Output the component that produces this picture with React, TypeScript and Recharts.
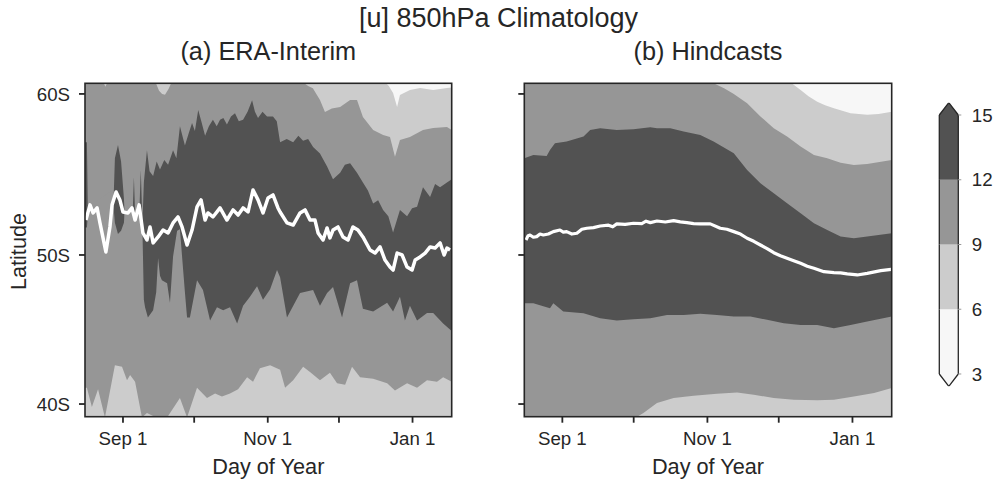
import React from "react";
import { Area, Bar, BarChart, CartesianGrid, ComposedChart, Line, XAxis, YAxis } from "recharts";

const FONT = '"Liberation Sans", Arial, Helvetica, sans-serif';
const INK = "#262626";

// contour levels of the shading and their greys (3-6, 6-9, 9-12, 12-15)
const LEVELS = [3, 6, 9, 12, 15];
const LEVEL_COLORS = ["#f7f7f7", "#cccccc", "#969696", "#525252"];

// x: days after Sep 1
const DAY_TICKS = [0, 30, 61, 91, 122];
const DAY_LABELS = ["Sep 1", "", "Nov 1", "", "Jan 1"];
const DAY_DOMAIN: [number, number] = [-16, 138.5];

// y: degrees south
const LAT_TICKS = [40, 50, 60];
const LAT_LABELS = ["40S", "50S", "60S"];
const LAT_DOMAIN: [number, number] = [39.15, 60.66];

// the published axis is not quite linear in latitude (tick spacing 60-50 > 50-40)
const toU = (lat: number) => (lat >= 50 ? (lat - 50) * 16.1 : (lat - 50) * 14.9);
const U_MIN = toU(LAT_DOMAIN[0]);
const U_MAX = toU(LAT_DOMAIN[1]);

// ---- (a) ERA-Interim: [day, lat] along each contour edge ----
const eraWhite = [[-16, 60.8], [110, 60.8], [112, 60.5], [113.8, 60.06], [115.5, 59.19], [116.7, 59.94], [120.9, 60.25], [125.2, 60.37], [130.7, 60.25], [136.5, 60.37], [138.5, 60.4]];
const eraLightTop = [[-16, 60.8], [-8.5, 60.8], [-7.4, 60.45], [-6.3, 60.8], [13.5, 60.8], [15.2, 60.2], [16.5, 60.0], [17.7, 59.95], [19.2, 60.3], [20.7, 60.8], [75, 60.8], [78, 60.5], [80, 60.35], [83, 59.63], [85.1, 58.88], [88, 59.1], [91.5, 59.19], [95.7, 59.63], [98.6, 59.63], [101.1, 58.57], [105.4, 57.76], [109.6, 57.45], [112.5, 57.33], [114.6, 56.1], [116.7, 57.14], [120.9, 57.33], [126.4, 57.76], [130.7, 57.89], [136.5, 57.95], [138.5, 57.76]];
const eraDarkTop = [[-16, 57.0], [-15.2, 57.0], [-14.5, 49.5], [-5.5, 49.5], [-4.6, 50.5], [-3.4, 56.0], [-2.1, 56.83], [-0.8, 55.8], [0.4, 53.5], [1.3, 50.5], [2.5, 49.5], [3.6, 50.5], [4.6, 54.84], [5.6, 50.5], [6.5, 51.0], [7.5, 55.28], [8.2, 52.0], [8.8, 54.5], [10.1, 56.5], [11.2, 55.2], [12.7, 54.9], [14.2, 55.8], [15.6, 55.3], [17.4, 55.9], [19.0, 55.6], [21.1, 56.5], [22.5, 56.0], [24.0, 58.0], [26.1, 56.8], [27.8, 57.6], [29.1, 58.2], [30.3, 57.7], [31.7, 59.0], [33.0, 58.3], [34.6, 57.4], [36.2, 58.0], [37.9, 58.4], [39.5, 58.0], [40.9, 58.4], [42.3, 58.5], [43.8, 58.1], [45.5, 58.6], [47.2, 58.8], [48.8, 58.3], [50.6, 58.4], [52.5, 58.9], [54.4, 59.6], [55.6, 58.9], [56.9, 58.5], [58.8, 58.9], [60.7, 58.6], [63.2, 58.6], [64.8, 58.3], [66.2, 57.0], [69.0, 57.2], [71.7, 57.0], [73.9, 57.4], [75.9, 57.1], [78.0, 57.2], [80.1, 56.7], [83.0, 56.3], [86.0, 55.5], [88.5, 54.7], [91.5, 55.1], [93.5, 55.6], [95.7, 55.7], [98.6, 55.1], [101.1, 54.5], [103.2, 54.0], [105.4, 53.2], [107.5, 53.4], [109.6, 52.8], [111.8, 52.4], [113.8, 51.4], [116.7, 52.8], [119.7, 52.4], [121.8, 52.9], [123.9, 53.0], [126.4, 54.2], [129.4, 53.6], [131.5, 54.4], [133.6, 54.2], [136.5, 54.5], [138.5, 54.7]];
const eraDarkBot = [[-16, 51.7], [-15.2, 51.7], [-14.5, 53], [-4.6, 54], [-3.4, 52], [-2.1, 51.3], [-0.8, 51.5], [0.4, 52.0], [1.3, 54], [3.6, 53], [4.6, 52.2], [5.6, 53], [6.5, 53], [7.5, 52.2], [8.0, 53], [8.8, 47.0], [9.3, 46.5], [10.5, 45.8], [12.7, 46.3], [14.0, 47.5], [14.8, 49.8], [15.6, 48.6], [16.4, 48.3], [18.6, 48.1], [19.8, 46.8], [21.1, 49.9], [22.8, 51.5], [24.0, 51.6], [24.9, 49.9], [26.1, 47.5], [27.0, 45.8], [28.2, 45.8], [31.2, 48.3], [33.7, 47.65], [36.7, 45.6], [39.6, 46.5], [42.2, 46.3], [45.1, 46.5], [48.1, 45.4], [50.6, 46.6], [53.5, 47.2], [56.5, 47.9], [59.0, 47.0], [62.0, 47.7], [64.9, 49.0], [66.2, 48.5], [69.1, 45.8], [74.6, 47.45], [80.1, 47.65], [83.0, 46.6], [86.0, 47.45], [88.5, 47.85], [92.3, 45.8], [95.7, 48.1], [98.6, 48.3], [101.1, 46.4], [105.4, 46.2], [111.3, 46.8], [113.8, 46.2], [116.7, 47.2], [118.8, 45.6], [120.9, 46.6], [123.9, 45.6], [128.1, 46.1], [130.7, 46.1], [134.9, 45.4], [138.5, 44.9]];
const eraLightBot = [[-16, 41.1], [-15.2, 41.1], [-13.1, 39.8], [-10.5, 41.0], [-7.6, 39.1], [-3.4, 42.6], [-0.4, 42.5], [1.7, 41.6], [3.0, 41.95], [5.1, 41.5], [8.0, 39.1], [10.1, 39.4], [12.7, 39.2], [18.6, 39.1], [24.0, 40.4], [27.0, 39.1], [31.2, 41.1], [35.4, 40.4], [38.8, 40.7], [41.7, 40.5], [45.1, 40.7], [48.5, 41.0], [52.3, 41.8], [54.8, 41.5], [57.7, 42.4], [62.0, 42.6], [66.2, 42.3], [68.3, 41.1], [71.7, 41.6], [75.9, 42.5], [78.8, 42.15], [83.0, 41.6], [87.2, 42.1], [90.2, 41.4], [93.6, 41.3], [96.5, 42.5], [99.9, 41.8], [105.4, 41.7], [111.3, 41.4], [114.6, 40.9], [119.7, 41.4], [123.9, 41.1], [128.1, 41.6], [132.3, 41.5], [134.9, 41.8], [138.5, 41.5]];
const eraJet = [[-15.6, 52.17], [-13.9, 53.11], [-12.6, 52.61], [-10.9, 52.92], [-9.7, 51.99], [-7.2, 50.19], [-5.5, 51.74], [-4.6, 53.11], [-2.9, 53.91], [-1.3, 53.42], [0.0, 52.67], [2.1, 52.61], [3.8, 52.92], [5.1, 52.17], [6.8, 53.11], [8.4, 51.37], [10.1, 50.93], [11.4, 51.74], [12.7, 50.75], [14.8, 51.12], [16.9, 51.55], [19.0, 51.37], [21.1, 51.99], [23.2, 52.36], [24.9, 51.74], [27.0, 50.62], [29.1, 51.55], [31.2, 52.98], [32.9, 53.42], [34.6, 52.17], [35.8, 52.61], [37.9, 52.36], [40.9, 52.92], [43.8, 52.17], [46.4, 52.8], [48.5, 52.48], [50.6, 52.92], [52.7, 52.67], [54.8, 54.04], [56.9, 53.42], [59.0, 52.61], [61.1, 53.54], [63.2, 53.73], [65.3, 52.92], [66.2, 52.67], [69.1, 51.99], [71.7, 51.86], [74.6, 52.61], [76.7, 52.8], [78.8, 52.17], [80.9, 52.17], [82.2, 51.37], [84.3, 50.93], [86.0, 51.68], [87.2, 51.06], [88.5, 51.55], [90.6, 51.74], [92.7, 51.12], [94.8, 50.93], [96.9, 51.74], [99.0, 51.55], [101.1, 51.12], [104.1, 50.31], [106.2, 50.12], [108.3, 50.5], [110.4, 49.66], [112.5, 49.19], [113.8, 48.99], [115.5, 50.12], [117.6, 50.0], [119.7, 49.19], [121.8, 48.99], [123.1, 49.66], [125.2, 49.87], [127.3, 50.12], [129.4, 50.5], [131.5, 50.43], [133.6, 50.75], [135.3, 50.0], [136.5, 50.43], [137.8, 50.31]];

// ---- (b) Hindcasts ----
const hcWhite = [[-16, 60.8], [95, 60.8], [97, 60.6], [100.2, 60.25], [103.5, 59.85], [107.2, 59.52], [110.5, 59.3], [114.2, 59.11], [121.2, 58.8], [128.2, 58.7], [133, 58.75], [138.5, 58.9]];
const hcLightTop = [[-16, 60.8], [60, 60.8], [63.6, 60.66], [68, 60.35], [72.1, 60.0], [77.7, 59.42], [83.3, 58.6], [88.9, 57.87], [94.5, 57.35], [100.2, 56.73], [105.8, 56.21], [111.4, 56.0], [117, 55.73], [122.6, 55.59], [128.2, 55.65], [138.5, 55.9]];
const hcDarkTop = [[-16, 56.0], [-12.2, 56.21], [-6.6, 56.15], [-5.2, 56.52], [-3.1, 56.94], [1.8, 57.04], [8.9, 57.35], [11.7, 57.76], [15.9, 57.87], [22.9, 57.76], [29.9, 57.8], [37.0, 57.93], [39.8, 57.87], [45.4, 57.87], [51.0, 57.66], [58.0, 57.45], [63.6, 57.04], [72.1, 56.31], [77.7, 55.28], [83.3, 54.45], [88.9, 53.83], [94.5, 53.21], [100.2, 52.59], [105.8, 51.97], [111.4, 51.55], [117.0, 51.14], [122.6, 51.04], [128.2, 51.14], [138.5, 51.35]];
const hcDarkBot = [[-16, 46.76], [-12.2, 46.76], [-5.2, 46.43], [-3.8, 46.76], [0.4, 46.2], [8.9, 46.09], [15.9, 45.76], [22.9, 45.6], [29.9, 45.69], [37.0, 45.76], [44.0, 45.98], [51.0, 45.98], [58.0, 46.05], [65.0, 45.98], [72.1, 45.87], [79.1, 45.87], [86.1, 45.65], [93.1, 45.42], [100.2, 45.31], [107.2, 45.31], [114.2, 45.09], [121.2, 45.31], [128.2, 45.54], [138.5, 45.87]];
const hcLightBot = [[-16, 39.0], [29.9, 39.0], [34.1, 39.4], [39.8, 40.07], [46.8, 40.4], [55.2, 40.56], [65.0, 40.69], [73.5, 40.78], [80.5, 40.63], [88.9, 40.4], [97.3, 40.29], [107.2, 40.25], [114.2, 40.29], [122.6, 40.51], [131.1, 40.74], [138.5, 41.07]];
const hcJet = [[-15.3, 50.93], [-14.4, 51.2], [-13.6, 51.24], [-12.2, 51.1], [-10.8, 51.14], [-9.4, 51.3], [-8.0, 51.24], [-5.9, 51.3], [-3.8, 51.45], [-1.0, 51.55], [0.4, 51.42], [1.8, 51.45], [4.0, 51.3], [6.1, 51.35], [8.2, 51.6], [10.3, 51.66], [13.1, 51.7], [15.9, 51.8], [19.4, 51.85], [21.2, 51.75], [22.9, 51.93], [26.4, 51.9], [29.9, 51.97], [33.4, 51.95], [35.2, 52.1], [37.0, 52.01], [39.8, 52.11], [43.3, 52.05], [46.8, 52.13], [49.6, 52.06], [52.4, 52.01], [55.2, 51.95], [58.0, 51.93], [62.2, 51.93], [66.4, 51.66], [69.2, 51.6], [72.1, 51.45], [74.9, 51.3], [77.7, 51.04], [80.5, 50.85], [83.3, 50.62], [86.1, 50.4], [88.9, 50.14], [91.7, 49.95], [94.5, 49.78], [97.3, 49.62], [100.2, 49.44], [103.0, 49.25], [105.8, 49.11], [110.0, 48.88], [114.2, 48.82], [117.0, 48.8], [119.8, 48.73], [124.0, 48.66], [128.2, 48.77], [133.9, 48.95], [138.3, 49.04]];

const pts = (arr: number[][]) => arr.map(([d, lat]) => ({ d, u: toU(lat) }));

type PanelProps = {
  left: number;
  width: number;
  yAxisWidth: number;
  showLatLabels: boolean;
  edges: number[][][]; // white, lightTop, darkTop, darkBot, lightBot
  jet: number[][];
  jetWidth: number;
};

// painter's order: each area fills from the bottom up to a contour edge
const EDGE_FILLS = [LEVEL_COLORS[1], LEVEL_COLORS[2], LEVEL_COLORS[3], LEVEL_COLORS[2], LEVEL_COLORS[1]];

function Panel({ left, width, yAxisWidth, showLatLabels, edges, jet, jetWidth }: PanelProps) {
  const tickStyle = { fontSize: 18.7, fill: INK, fontFamily: FONT };
  return (
    <div style={{ position: "absolute", left, top: 0 }}>
      <ComposedChart width={width} height={483} margin={{ top: 83.3, right: 18.3, bottom: 36.3, left: 0 }}>
        <CartesianGrid fill={LEVEL_COLORS[0]} stroke="none" horizontal={false} vertical={false} />
        <XAxis
          dataKey="d"
          type="number"
          domain={DAY_DOMAIN}
          allowDataOverflow
          ticks={DAY_TICKS}
          tickFormatter={(v: number) => DAY_LABELS[DAY_TICKS.indexOf(v)] ?? ""}
          height={30}
          tickSize={6}
          tickMargin={9}
          axisLine={false}
          tickLine={{ stroke: INK, strokeWidth: 1.8 }}
          tick={tickStyle}
          interval={0}
        />
        <YAxis
          dataKey="u"
          type="number"
          domain={[U_MIN, U_MAX]}
          allowDataOverflow
          ticks={LAT_TICKS.map(toU)}
          tickFormatter={(v: number) => (showLatLabels ? LAT_LABELS[LAT_TICKS.map(toU).indexOf(v)] ?? "" : "")}
          width={yAxisWidth}
          tickSize={6}
          tickMargin={9}
          axisLine={false}
          tickLine={{ stroke: INK, strokeWidth: 1.8 }}
          tick={tickStyle}
          interval={0}
        />
        {edges.map((edge, i) => (
          <Area
            key={i}
            data={pts(edge)}
            dataKey="u"
            type="linear"
            baseValue={U_MIN}
            stroke="none"
            fill={EDGE_FILLS[i]}
            fillOpacity={1}
            dot={false}
            activeDot={false}
            isAnimationActive={false}
          />
        ))}
        <Line
          data={pts(jet)}
          dataKey="u"
          type="linear"
          stroke="#ffffff"
          strokeWidth={jetWidth}
          strokeLinejoin="round"
          dot={false}
          activeDot={false}
          isAnimationActive={false}
        />
      </ComposedChart>
    </div>
  );
}

// colorbar: stacked segments, with extension triangles at both ends
const EXTEND = 0.57;
const colorbarRow = [
  {
    name: "u",
    spacer: LEVELS[0] - EXTEND,
    low: EXTEND,
    c0: LEVELS[1] - LEVELS[0],
    c1: LEVELS[2] - LEVELS[1],
    c2: LEVELS[3] - LEVELS[2],
    c3: LEVELS[4] - LEVELS[3],
    high: EXTEND,
  },
];

const segShape = (fill: string) => (p: any) => (
  <g>
    <rect x={p.x} y={p.y} width={p.width} height={p.height} fill={fill} />
    <line x1={p.x} y1={p.y} x2={p.x} y2={p.y + p.height} stroke={INK} strokeWidth={1.3} />
    <line x1={p.x + p.width} y1={p.y} x2={p.x + p.width} y2={p.y + p.height} stroke={INK} strokeWidth={1.3} />
  </g>
);

const triShape = (fill: string, up: boolean) => (p: any) => {
  const { x, y, width: w, height: h } = p;
  const poly = up
    ? `${x},${y + h} ${x + w / 2},${y} ${x + w},${y + h}`
    : `${x},${y} ${x + w / 2},${y + h} ${x + w},${y}`;
  return (
    <g>
      <polygon points={poly} fill={fill} />
      <polyline points={poly} fill="none" stroke={INK} strokeWidth={1.3} strokeLinejoin="miter" />
    </g>
  );
};

function Colorbar() {
  return (
    <div style={{ position: "absolute", left: 920, top: 90 }}>
      <BarChart width={77} height={310} data={colorbarRow} margin={{ top: 12.7, right: 0, bottom: 13.7, left: 19.3 }} barCategoryGap={0} barGap={0}>
        <XAxis dataKey="name" type="category" hide />
        <YAxis
          orientation="right"
          type="number"
          domain={[LEVELS[0] - EXTEND, LEVELS[4] + EXTEND]}
          allowDataOverflow
          ticks={LEVELS}
          width={38.7}
          tickSize={3}
          tickMargin={10.5}
          axisLine={false}
          tickLine={{ stroke: "#999", strokeWidth: 1 }}
          tick={{ fontSize: 18.7, fill: INK, fontFamily: FONT }}
          interval={0}
        />
        <Bar dataKey="spacer" stackId="cb" fill="transparent" isAnimationActive={false} />
        <Bar dataKey="low" stackId="cb" shape={triShape(LEVEL_COLORS[0], false)} isAnimationActive={false} />
        <Bar dataKey="c0" stackId="cb" shape={segShape(LEVEL_COLORS[0])} isAnimationActive={false} />
        <Bar dataKey="c1" stackId="cb" shape={segShape(LEVEL_COLORS[1])} isAnimationActive={false} />
        <Bar dataKey="c2" stackId="cb" shape={segShape(LEVEL_COLORS[2])} isAnimationActive={false} />
        <Bar dataKey="c3" stackId="cb" shape={segShape(LEVEL_COLORS[3])} isAnimationActive={false} />
        <Bar dataKey="high" stackId="cb" shape={triShape(LEVEL_COLORS[3], true)} isAnimationActive={false} />
      </BarChart>
    </div>
  );
}

export default function App() {
  return (
    <div style={{ position: "absolute", left: 0, top: 0, width: 997, height: 483, background: "#fff", fontFamily: FONT }}>
      <Panel
        left={0}
        width={470}
        yAxisWidth={85}
        showLatLabels
        edges={[eraWhite, eraLightTop, eraDarkTop, eraDarkBot, eraLightBot]}
        jet={eraJet}
        jetWidth={3.5}
      />
      <Panel
        left={470}
        width={440}
        yAxisWidth={54.3}
        showLatLabels={false}
        edges={[hcWhite, hcLightTop, hcDarkTop, hcDarkBot, hcLightBot]}
        jet={hcJet}
        jetWidth={3.2}
      />
      <Colorbar />
      <svg width={997} height={483} style={{ position: "absolute", left: 0, top: 0, pointerEvents: "none" }}>
        <rect x={85} y={83.3} width={366.7} height={333.4} fill="none" stroke={INK} strokeWidth={1.6} />
        <rect x={524.3} y={83.3} width={367.4} height={333.4} fill="none" stroke={INK} strokeWidth={1.6} />
        <g fill={INK} fontFamily={FONT}>
          <text x={498.5} y={27} fontSize={27} textAnchor="middle">[u] 850hPa Climatology</text>
          <text x={268.3} y={60} fontSize={25.3} textAnchor="middle">(a) ERA-Interim</text>
          <text x={708} y={60} fontSize={25.3} textAnchor="middle">(b) Hindcasts</text>
          <text x={268.3} y={474} fontSize={21.7} textAnchor="middle">Day of Year</text>
          <text x={708} y={474} fontSize={21.7} textAnchor="middle">Day of Year</text>
          <text transform="translate(25.5 251.5) rotate(-90)" fontSize={21.7} textAnchor="middle">Latitude</text>
        </g>
      </svg>
    </div>
  );
}
